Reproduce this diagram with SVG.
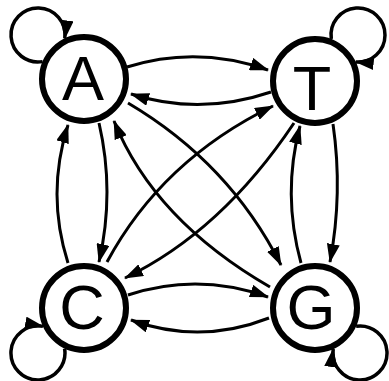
<svg xmlns="http://www.w3.org/2000/svg" width="389" height="381" viewBox="0 0 389 381">
<style>
.e{fill:none;stroke:#000;stroke-width:3;marker-end:url(#ah)}
.lp{fill:none;stroke:#000;stroke-width:3.5;marker-end:url(#ah)}
.n circle{fill:#fff;stroke:#000;stroke-width:6}
.n text{font-family:"Liberation Sans",Arial,sans-serif;font-size:63px;text-anchor:middle;fill:#000}
</style>
<defs>
<marker id="ah" markerUnits="userSpaceOnUse" viewBox="0 0 19 13" refX="18" refY="6.5" markerWidth="19" markerHeight="13" orient="auto">
<path d="M0,0 L19,6.5 L0,13 z" fill="#000"/>
</marker>
</defs>
<rect width="389" height="381" fill="#fff"/>
<g id="connectors">
<path class="lp" d="M42.6,61.6 A27,27 0 1 1 64.8,38.4"/>
<path class="lp" d="M331.3,39.1 A27,27 0 1 1 355.7,61.9"/>
<path class="lp" d="M356.1,326.3 A27,27 0 1 1 333.3,349.1"/>
<path class="lp" d="M64.6,348.6 A27,27 0 1 1 43,326.4"/>
<path class="e" d="M127,67 Q197,45 268,70"/>
<path class="e" d="M271,92 Q200,116 131,94"/>
<path class="e" d="M68,263 Q46,194 68,125"/>
<path class="e" d="M99,123 Q115,192 99,262"/>
<path class="e" d="M301,263 Q282,194 300,126"/>
<path class="e" d="M333,124 Q343,193 330,262"/>
<path class="e" d="M128,295 Q198,272 268,297"/>
<path class="e" d="M269,318 Q200,345 131,320"/>
<path class="e" d="M128,103 Q229.5,163 281,265"/>
<path class="e" d="M270,287 Q154,220 114,121"/>
<path class="e" d="M107,262 Q162,160 273,106"/>
<path class="e" d="M294,123 Q221.5,231.5 125,278"/>
</g>
<g id="node-A" class="n"><circle cx="84" cy="79" r="42"/><text x="83" y="100">A</text></g>
<g id="node-T" class="n"><circle cx="315" cy="81" r="42"/><text x="312" y="110">T</text></g>
<g id="node-C" class="n"><circle cx="84" cy="308" r="42"/><text x="82" y="329">C</text></g>
<g id="node-G" class="n"><circle cx="315" cy="308" r="42"/><text x="311" y="329">G</text></g>
</svg>
